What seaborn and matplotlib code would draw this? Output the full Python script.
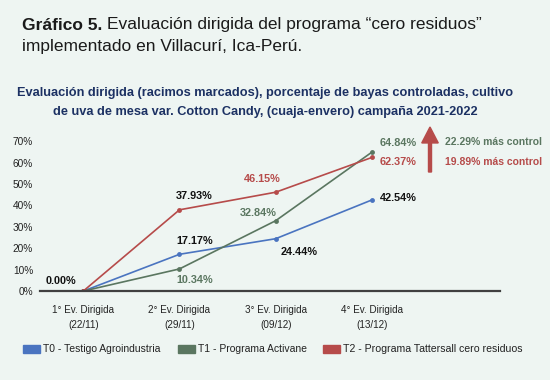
import matplotlib
matplotlib.use("Agg")
import matplotlib.pyplot as plt
import seaborn as sns
import pandas as pd

categories = ["1° Ev. Dirigida\n(22/11)", "2° Ev. Dirigida\n(29/11)",
              "3° Ev. Dirigida\n(09/12)", "4° Ev. Dirigida\n(13/12)"]
series_names = ["T0 - Testigo Agroindustria", "T1 - Programa Activane",
                "T2 - Programa Tattersall cero residuos"]
t0_values = [0.0, 17.17, 24.44, 42.54]
t1_values = [0.0, 10.34, 32.84, 64.84]
t2_values = [0.0, 37.93, 46.15, 62.37]
ytick_values = [0, 10, 20, 30, 40, 50, 60, 70]
control_notes = ["22.29% más control", "19.89% más control"]

BG = "#EEF5F2"
BLUE = "#4A74C0"
GREEN = "#5A7660"
RED = "#B64B4A"
NAVY = "#1C3163"

sns.set_theme(style="white")
plt.rcParams["font.family"] = ["Liberation Sans", "DejaVu Sans"]

df = pd.DataFrame({
    "x": list(range(4)) * 3,
    "y": t0_values + t1_values + t2_values,
    "serie": [series_names[0]] * 4 + [series_names[1]] * 4 + [series_names[2]] * 4,
})
palette = {series_names[0]: BLUE, series_names[1]: GREEN, series_names[2]: RED}

fig = plt.figure(figsize=(5.5, 3.8), dpi=100, facecolor=BG)
ax = fig.add_axes([0.0727, 0.234, 0.836, 0.451])
ax.set_facecolor(BG)

sns.lineplot(data=df, x="x", y="y", hue="serie", palette=palette, marker="o",
             markersize=3.5, markeredgewidth=0, linewidth=1.2, legend=False, ax=ax)

ax.set_xlim(-0.45, 4.33)
ax.set_ylim(0, 80)
ax.set_yticks(ytick_values)
ax.set_yticklabels([f"{v}%" for v in ytick_values], fontsize=7.3, color="#222222")
ax.set_xticks(range(4))
ax.set_xticklabels(categories, fontsize=7.1, color="#222222", linespacing=1.6)
ax.tick_params(axis="both", length=0)
ax.tick_params(axis="x", pad=10)
ax.tick_params(axis="y", pad=5)
ax.set_xlabel("")
ax.set_ylabel("")
for s in ["top", "right", "left"]:
    ax.spines[s].set_visible(False)
ax.spines["bottom"].set_color("#404040")
ax.spines["bottom"].set_linewidth(1.6)

def lab(i, vals, dx, dy, color, ha="center"):
    ax.annotate(f"{vals[i]:.2f}%", (i, vals[i]), xytext=(dx, dy),
                textcoords="offset pixels", ha=ha, va="center",
                fontsize=7.8, fontweight="bold", color=color)

lab(0, t0_values, -22, 10, "#111111")
lab(1, t2_values, 15, 14, "#111111")
lab(1, t0_values, 15, 13, "#111111")
lab(1, t1_values, 15, -11, GREEN)
lab(2, t2_values, -13, 13, RED)
lab(2, t1_values, -17, 8, GREEN)
lab(2, t0_values, 23, -13, "#111111")
lab(3, t1_values, 8, 9, GREEN, ha="left")
lab(3, t2_values, 8, -5, RED, ha="left")
lab(3, t0_values, 8, 2, "#111111", ha="left")

# arrow and notes
fig.patches.append(matplotlib.patches.FancyArrow(
    430 / 550, 1 - 172 / 380, 0, (172 - 127) / 380, width=0.0055,
    head_width=0.03, head_length=0.042, length_includes_head=True,
    color=RED, transform=fig.transFigure, figure=fig))
fig.text(445 / 550, 1 - 142 / 380, control_notes[0], color=GREEN, fontsize=7.5,
         fontweight="bold", va="center", ha="left")
fig.text(445 / 550, 1 - 162 / 380, control_notes[1], color=RED, fontsize=7.5,
         fontweight="bold", va="center", ha="left")

# chart title
fig.text(265 / 550, 1 - 93 / 380,
         "Evaluación dirigida (racimos marcados), porcentaje de bayas controladas, cultivo",
         ha="center", va="center", fontsize=9.15, fontweight="bold", color=NAVY)
fig.text(265 / 550, 1 - 112 / 380,
         "de uva de mesa var. Cotton Candy, (cuaja-envero) campaña 2021-2022",
         ha="center", va="center", fontsize=9.15, fontweight="bold", color=NAVY)

renderer = fig.canvas.get_renderer()

def fit(txt, target_px):
    w = txt.get_window_extent(renderer).width
    txt.set_fontsize(txt.get_fontsize() * target_px / w)

# header
t1 = fig.text(22 / 550, 1 - 25 / 380, "Gráfico 5.", ha="left", va="center",
              fontsize=13, fontweight="bold", color="#1a1a1a")
t2 = fig.text(0, 1 - 25 / 380, "Evaluación dirigida del programa “cero residuos”",
              ha="left", va="center", fontsize=13, color="#1a1a1a")
w1 = t1.get_window_extent(renderer).width
w2 = t2.get_window_extent(renderer).width
gap = 5
scale = (460 - gap) / (w1 + w2)
t1.set_fontsize(13 * scale)
t2.set_fontsize(13 * scale)
w1 = t1.get_window_extent(renderer).width
t2.set_x((22 + w1 + gap) / 550)
t3 = fig.text(22 / 550, 1 - 47 / 380, "implementado en Villacurí, Ica-Perú.", ha="left",
              va="center", fontsize=13 * scale, color="#1a1a1a")

# legend
legend_x = [23, 178, 323]
legend_w = [117, 109, 178]
for xx, ww, name in zip(legend_x, legend_w, series_names):
    fig.patches.append(matplotlib.patches.Rectangle(
        (xx / 550, 1 - 353 / 380), 17 / 550, 8 / 380, color=palette[name],
        transform=fig.transFigure, figure=fig))
    t = fig.text((xx + 20) / 550, 1 - 349 / 380, name, ha="left", va="center",
                 fontsize=7.5, color="#222222")
    fit(t, ww)

fig.savefig("out.png", dpi=100, facecolor=BG)
